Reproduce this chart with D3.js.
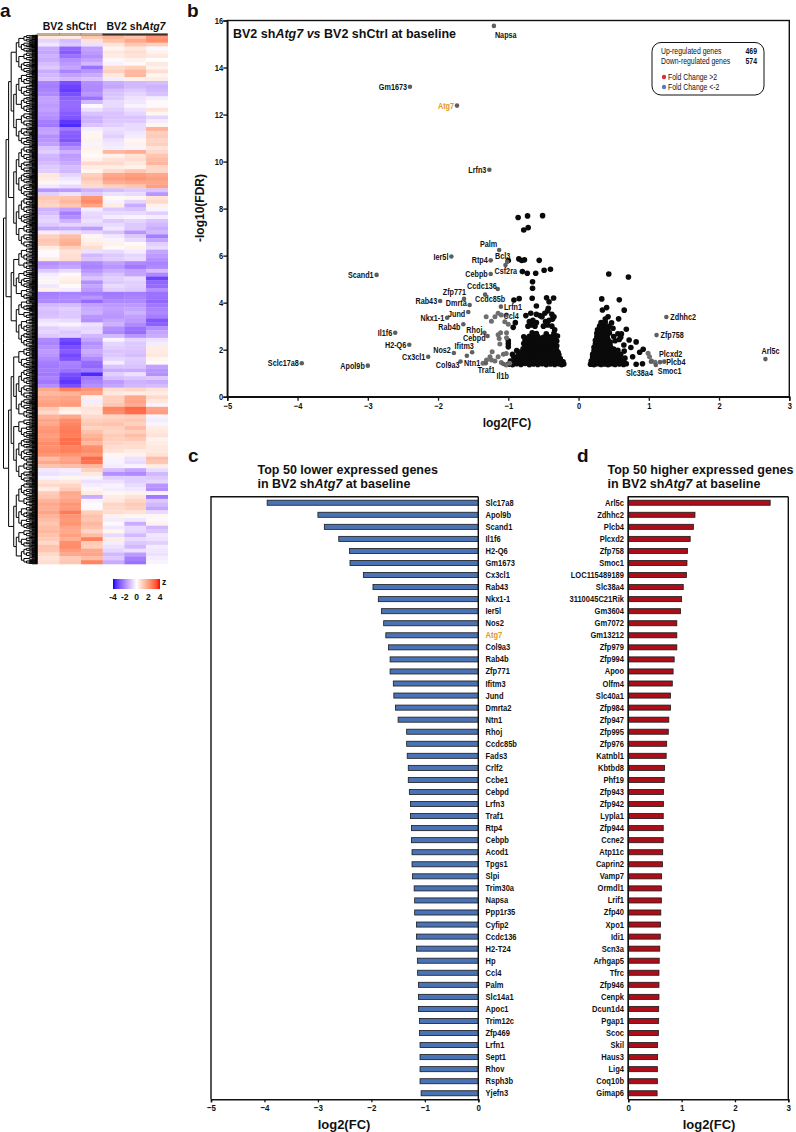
<!DOCTYPE html>
<html>
<head>
<meta charset="utf-8">
<script src="https://cdn.jsdelivr.net/npm/d3@7"></script>
<style>
  html, body { margin: 0; padding: 0; background: #fff; }
  svg { display: block; }
  text { font-family: "Liberation Sans", Arial, sans-serif; fill: #111; }
</style>
</head>
<body>
<svg id="fig" width="796" height="1132"></svg>
<script>
// heatmap z values, one row per line, read top to bottom (3 shCtrl, 3 shAtg7)
const heatRows = [
  [.5,.4,1.2,1.6,1.3,2.2],[-.7,-1.1,.6,1.3,1.8,2.3],[-.4,-.9,-.5,.6,1.2,1],[-1.4,-2.6,-1.6,.2,.5,-.1],
  [-1.5,-2.8,-1.7,.5,.7,.3],[-1.3,-2.4,-1.9,.4,.6,.5],[-1.4,-1.9,-1.6,.1,.3,0],[-1.1,-1.7,-1.2,-.2,.1,.5],
  [-.9,-1.5,-2.4,.8,1,.3],[-1.4,-2.1,-1.8,1,1.5,.7],[-1.2,-1.6,-1.4,.5,1.5,.2],[-1,-1.2,-1,-.3,.3,.4],
  [-2.1,-3,-1.9,-1.4,-1.2,-1.1],[-2.2,-3.2,-2,-1.5,-1.2,-1.3],[-2.1,-3.3,-2,-1.1,-.9,-1.2],[-2,-3,-1.8,-1,-.7,-1],
  [-1.6,-2.7,-2.4,-.9,-.5,-.3],[-1.6,-2.5,-1.2,-.6,-.4,.1],[-1.7,-2.5,-.1,-.6,-.2,-.1],[-1.6,-2.6,-.5,-.8,-.5,.6],
  [-1.8,-2.8,-1,-1,-.7,.2],[-1.9,-2.9,-1.3,-1,-1,-.7],[-2.2,-3.4,-1.3,-.9,-.9,-.3],[-2.3,-3.6,-1,-.8,-.6,.2],
  [-1.6,-2.3,-.3,-.5,-.6,1.6],[-1.5,-2.7,.2,-.6,-.4,1],[-1.9,-2.8,.2,-.8,-.3,1.1],[-1.8,-2.9,.3,-.5,.2,.9],
  [-1.6,-2.4,-.2,-.4,.3,1],[-1,-1.9,.3,-.3,-.2,.6],[-.8,-1.3,.2,1.5,1.7,.8],[-1.2,-1.7,.1,.3,.6,1.2],
  [-1.3,-1.6,.3,.6,.7,1.4],[-1.1,-1.4,.8,.8,.5,1.5],[-.9,-1.1,.4,.4,.3,.9],[-.8,-1.2,.2,.8,1.2,.9],
  [.5,-.7,1,1.8,2,1.8],[.4,-.4,1.2,2,2.2,2],[.2,-.2,.9,1.7,1.8,1.8],[-.4,-.6,.8,1,1.2,2],
  [-1.8,-1.7,-1.3,-1.1,-.9,-1],[-.8,-.5,-.9,-.5,-.6,-1.8],[1.2,1.3,2.2,.1,.2,.6],[1,1.5,2.4,-.2,-.7,.8],
  [.9,1.2,1.9,.4,-1.4,.3],[-1.3,-1.6,-.3,-.9,-1,-.2],[-1.1,-2.2,-.6,-.6,-.6,-.8],[-.8,-1.9,-.7,-.3,-.2,-.3],
  [-.7,-1.3,-.5,-.9,-.7,-1],[-.9,-.7,-.7,-.6,-.9,-1.2],[-1.5,-1.4,-1.7,-.4,-.9,-1.4],[-.3,-.5,-.7,-1,-1.8,-1.2],
  [1,1.4,.2,-.4,-.9,-2.2],[1.2,1.6,.3,-.2,-.6,-1.5],[1.1,1.7,.4,.3,.1,-.8],[.4,1,.7,.1,.3,-.6],
  [.1,.6,-.5,-.6,-.3,-1.5],[-.1,.7,-1.2,-.9,-.7,-1.7],[.4,.7,-1,-.8,-.6,-1.9],[-1.9,-1.7,-2,-1.6,-2,-2.1],
  [-1.7,-1.5,-2.1,-1.8,-2.3,-2],[-.9,-.6,-1.8,-1.4,-1.6,-1.1],[-.3,.1,-1.4,-1,-1.5,-2],[-.2,.3,-1,-.8,-.6,-3.2],
  [.2,.4,-1.9,-.9,-.8,-2.6],[-.4,.1,-1.5,-.6,-.8,-2.5],[.3,-.3,-1.7,-.8,-.9,-1.9],[-2.2,-2.1,-2.2,-2.3,-2.2,-2.4],
  [-2.1,-2,-1.8,-2.2,-2.1,-2.4],[-2,-2,-2.5,-2,-2,-2.6],[-1.2,-1.1,-1.6,-1.7,-1.7,-2.3],[-1,-.8,-1.4,-1.6,-1.5,-2.1],
  [-1.1,-.9,-1.3,-1.7,-1.3,-2],[-1,-.9,-1.8,-1.8,-1.6,-2.2],[-.5,-.6,-1.9,-1.5,-1.7,-2.9],[-.3,-.2,-.5,-1.3,-2,-2.7],
  [-.8,-.6,-.7,-1.9,-2.4,-1.9],[-.7,-.9,-.6,-2,-2.5,-1.5],[-.9,-.8,-1.2,-1.2,-1.8,-1.4],[-2,-3.1,-1.5,-.2,-.7,-.5],
  [-2.1,-3.3,-1.9,-.7,-.9,-.3],[-1.9,-3,-1.7,-.8,-.9,.4],[-1.7,-2.8,-1.4,-1,-1,.4],[-1.8,-3.1,-1.6,-.9,-1.1,.5],
  [-2,-2.9,-2,-.7,-.8,.2],[-2.2,-2.1,-2.5,-.3,-.9,.1],[-2.3,-2.2,-2.6,-1,-1,-1.6],[-2.2,-2.4,-2.2,-1.4,-1.4,-1.8],
  [-2.3,-3,-3.6,-.8,-.5,-1.9],[-2.1,-3.2,-2.3,-1.1,-1,-.9],[-2.3,-3.4,-2.1,-1.7,-1.3,-1.4],[-1.9,-3,-1.9,-1.5,-1.2,-1.1],
  [1.8,2.6,2.2,.7,.9,.6],[1.5,1.6,1.9,.5,.4,.4],[1.8,1.9,.3,1,1.8,.8],[1.9,2,-.3,1,1.9,.5],
  [2,2.1,.4,1.2,1.7,-.2],[1.1,.4,.6,2.5,3,1.9],[.8,.2,.5,2.4,2.9,2],[1.6,1.8,.8,.9,1,-.2],
  [1.9,2.4,1,1.1,1.2,-.3],[1.8,2.5,1.2,1.3,1,-.2],[2.1,2.6,.9,1,1.4,.4],[2.2,2.7,1.3,.9,1,.5],
  [2,2.6,1.6,1.1,1.4,.6],[2.2,2.9,1.8,1,1.1,.3],[2.4,2.9,1.5,.9,.8,.4],[2.3,2.5,2.3,.7,.7,.5],
  [2.4,2.6,2.4,.6,.4,.5],[2.2,2.2,2.1,.2,.3,.6],[1.4,1.9,3,-.2,-.5,1.4],[1.8,2,2.8,-.2,-.6,1.2],
  [1.3,1.4,1.5,-.3,-.2,.4],[-.4,-.3,1,-1.1,-1.5,-.6],[-.5,-.4,.5,-1.9,-2,-1.2],[-.2,.2,-.2,-.8,-.8,-.9],
  [.6,.5,-.5,-.5,-.8,-.7],[.8,.9,-.3,-.2,-.6,-1.8],[.4,1.1,.2,-.3,-.4,-1.9],[1.1,1.8,.4,.2,.3,-.2],
  [1.2,1.7,-1.4,.4,.6,-2.3],[1.6,1.9,-.2,.5,.9,-.9],[1.8,2.2,.1,.9,1.1,-1.2],[1.7,2.1,-.1,.8,1,-1.5],
  [1.9,2.7,1,.7,.6,-.6],[1.6,2.2,1.3,.3,.2,.2],[1.4,2.1,1.2,-.3,-.4,-.1],[1.2,2.2,1.5,.1,-1.4,.3],
  [1.4,1.9,1.3,-.4,-.6,-1.2],[1.5,1.8,.9,.2,-.7,-.9],[1.3,2,1.4,-.6,-1.2,-.4],[1.1,1.7,2.6,.4,-.6,-.5],
  [.8,2.3,1.1,-.3,-.9,-.8],[1.3,2.4,1,-.5,-1.2,-.3],[1.2,2.1,1.8,-.7,-.5,-.4],[.8,1.8,1.9,-1.2,-1.7,-.5],
  [.6,1.1,1.4,-.9,-2.2,-.3],[.7,1.2,2.5,-1.4,-2.4,-.2]
];
const heatColumns = ["c1", "c2", "c3", "a1", "a2", "a3"];
const zTicks = [-4, -2, 0, 2, 4];

// cluster sizes (gene counts) of the row dendrogram, nested as in the picture
const dendroClusters = [
  [[[[44, 52], [[60, 40], [36, 48]]], [[[38, 30], [28, 34]], [[42, 26], [24, 36]]]],
   [[[34, 22], [46, 30]], [[28, 20], [34, 38]]]],
  [[[[24, 30], [[40, 36], [28, 22]]], [[18, 32], [[26, 34], [22, 30]]]],
   [[[36, 24], [30, 28]], [[20, 26], [24, 18]]]]
];

// volcano: genes with a label
const volcanoGenes = ["Napsa","Gm1673","Atg7","Lrfn3","Palm","Bcl3","Ier5l","Rtp4","Csf2ra","Scand1","Cebpb","Ccdc136","Zfp771","Ccdc85b","Rab43","Dmrta","Lrfn1","Jund","Ccl4","Nkx1-1","Rab4b","Rhoj","Cebpd","Il1f6","H2-Q6","Ifitm3","Nos2","Ntn1","Cx3cl1","Col9a3","Traf1","Il1b","Sclc17a8","Apol9b","Zdhhc2","Zfp758","Plcxd2","Plcb4","Slc38a4","Smoc1","Arl5c"];
const volcanoFc = [-1.205,-2.4,-1.73,-1.27,-1.13,-1.015,-1.81,-1.25,-1.04,-2.875,-1.25,-1.15,-1.63,-1.33,-1.97,-1.55,-1.105,-1.57,-1.025,-1.87,-1.64,-1.34,-1.295,-2.61,-2.41,-1.59,-1.775,-1.515,-2.14,-1.68,-1.32,-1.07,-3.94,-3,1.25,1.11,1.16,1.22,1.03,1.1,2.66];
const volcanoFdr = [15.77,13.18,12.38,9.65,6.24,5.74,5.96,5.8,5.6,5.18,5.22,4.58,4.16,4.34,4.07,3.9,3.83,3.6,3.48,3.36,3.08,2.72,2.58,2.72,2.21,1.74,1.86,1.89,1.7,1.5,1.42,1.39,1.42,1.32,3.39,2.62,1.47,1.49,1.49,1.35,1.6];

// volcano: grey genes past the fold change cut, no label
const greyPoints = [[-1.315,3.4],[-1.24,3.21],[-1.19,3.4],[-1.145,3.55],[-1.1,3.48],[-1.05,3.19],[-1,3.08],[-1.145,2.64],[-1.11,2.72],[-1.025,2.72],[-1.025,2.51],[-1.12,2.24],[-1.13,2.48],[-1.23,1.91],[-1.26,1.7],[-1.31,1.56],[-1.36,1.42],[-1.24,1.56],[-1.19,1.52],[-1.145,1.7],[-1.07,1.81],[-1.03,1.84],[-1.1,1.45],[-1.03,1.35],[-.98,1.42],[.99,1.85],[1.04,1.52],[1.09,1.47],[1.01,1.7]];

// volcano: black genes, negative side
const blackDown = [[-.86,7.62],[-.726,7.69],[-.512,7.7],[-.717,7.19],[-.78,7.09],[-.85,5.86],[-.81,5.79],[-.77,5.82],[-.56,5.8],[-1,5.79],[-.8,5.32],[-.73,5.25],[-.61,5.25],[-.49,5.38],[-.4,5.42],[-.655,4.89],[-.655,4.61],[-.66,4.19],[-.92,4.11],[-.845,4.17],[-.455,4.21],[-.355,4.2],[-.42,4.04],[-.6,3.86],[-.43,3.76],
  [-1,1.38],[-.94,1.36],[-.88,1.4],[-.82,1.37],[-.76,1.41],[-.7,1.36],[-.64,1.39],[-.58,1.37],[-.52,1.4],[-.46,1.36],[-.4,1.39],[-.34,1.37],[-.28,1.4],[-.24,1.36],[-.21,1.39],
  [-.97,1.52],[-.9,1.5],[-.83,1.54],[-.75,1.51],[-.68,1.53],[-.61,1.5],[-.55,1.55],[-.48,1.51],[-.42,1.53],[-.36,1.5],[-.3,1.54],[-.25,1.51],[-.22,1.48],
  [-.92,1.68],[-.86,1.65],[-.78,1.67],[-.72,1.64],[-.66,1.69],[-.6,1.66],[-.53,1.68],[-.47,1.65],[-.41,1.67],[-.35,1.64],[-.29,1.68],[-.26,1.62],
  [-.94,1.8],[-.78,1.82],[-.71,1.79],[-.65,1.83],[-.58,1.8],[-.52,1.82],[-.45,1.78],[-.39,1.83],[-.33,1.8],[-.28,1.78],
  [-.88,1.96],[-.74,1.95],[-.68,1.98],[-.61,1.94],[-.55,1.97],[-.48,1.95],[-.42,1.98],[-.36,1.94],[-.31,1.96],
  [-1,2.12],[-.76,2.1],[-.7,2.13],[-.63,2.09],[-.57,2.12],[-.5,2.1],[-.44,2.13],[-.38,2.09],[-.32,2.11],
  [-1,2.25],[-.78,2.26],[-.72,2.23],[-.65,2.27],[-.58,2.24],[-.52,2.26],[-.46,2.23],[-.4,2.27],[-.34,2.25],
  [-1,2.38],[-.76,2.4],[-.7,2.42],[-.62,2.39],[-.56,2.41],[-.49,2.38],[-.43,2.42],[-.37,2.4],[-.31,2.37],
  [-.78,2.55],[-.7,2.57],[-.64,2.54],[-.58,2.56],[-.5,2.53],[-.44,2.57],[-.38,2.55],[-.3,2.58],
  [-.66,2.72],[-.6,2.69],[-.46,2.68],[-.35,2.7],
  [-.93,2.95],[-.9,3.15],[-.72,3],[-.67,3.05],[-.62,3],[-.7,3.2],[-.65,3.25],[-.6,3.15],[-.5,3],[-.44,3.05],[-.38,3],[-.47,3.2],[-.42,3.25],[-.37,3.3],[-.34,2.85],[-.75,3.45],[-.68,3.55],[-.6,3.5],[-.55,3.45],[-.52,3.4],[-.35,3.4],[-.38,3.5],[-.48,3.55],[-.44,3.65],
  [-.92,1.44],[-.85,1.46],[-.79,1.44],[-.72,1.45],[-.66,1.46],[-.59,1.44],[-.53,1.46],[-.47,1.44],[-.41,1.46],[-.35,1.44],[-.29,1.46],[-.23,1.44],
  [-.89,1.59],[-.8,1.6],[-.74,1.58],[-.69,1.6],[-.63,1.59],[-.57,1.6],[-.5,1.58],[-.44,1.6],[-.38,1.58],[-.32,1.6],[-.27,1.58],
  [-.86,1.76],[-.81,1.74],[-.75,1.76],[-.68,1.75],[-.62,1.74],[-.55,1.76],[-.49,1.74],[-.42,1.76],[-.36,1.74],[-.3,1.76],
  [-.83,1.9],[-.77,1.88],[-.71,1.9],[-.64,1.88],[-.58,1.9],[-.51,1.88],[-.45,1.9],[-.39,1.88],[-.33,1.9],[-.29,1.88],
  [-.79,2.04],[-.73,2.03],[-.66,2.05],[-.6,2.03],[-.53,2.05],[-.47,2.03],[-.41,2.05],[-.35,2.03],
  [-.75,2.18],[-.68,2.17],[-.61,2.19],[-.55,2.17],[-.48,2.19],[-.42,2.17],[-.36,2.19],[-.31,2.17],
  [-.74,2.32],[-.67,2.33],[-.6,2.31],[-.54,2.33],[-.47,2.31],[-.41,2.33],[-.35,2.31],
  [-.73,2.48],[-.66,2.47],[-.6,2.49],[-.53,2.47],[-.47,2.49],[-.41,2.47],[-.34,2.49]];

// volcano: black genes, positive side
const blackUp = [[.43,5.22],[.71,5.09],[.33,4.16],[.58,4.12],[.4,3.79],[.34,3.69],[.65,3.68],[.42,3.4],[.57,3.31],[.35,3.12],[.49,2.91],[.68,2.87],[.61,2.67],[.72,2.41],[.82,2.33],[.645,2.2],[.745,2.09],[.92,2.02],[.87,1.89],[.77,1.7],[.82,1.38],[.91,1.4],
  [.17,1.38],[.22,1.36],[.27,1.4],[.32,1.37],[.37,1.39],[.42,1.36],[.47,1.4],[.52,1.37],[.58,1.39],[.64,1.37],[.68,1.4],
  [.18,1.52],[.24,1.5],[.3,1.53],[.36,1.51],[.42,1.54],[.48,1.5],[.55,1.52],[.62,1.5],
  [.2,1.66],[.26,1.64],[.32,1.67],[.38,1.65],[.44,1.68],[.5,1.65],[.58,1.67],[.66,1.64],
  [.2,1.8],[.26,1.82],[.32,1.79],[.38,1.81],[.44,1.78],[.52,1.82],[.6,1.8],
  [.22,1.95],[.28,1.97],[.34,1.94],[.4,1.96],[.46,1.93],[.56,1.97],[.65,1.94],
  [.22,2.1],[.28,2.12],[.34,2.09],[.4,2.11],[.46,2.08],
  [.24,2.25],[.3,2.27],[.36,2.24],[.42,2.26],
  [.24,2.4],[.3,2.42],[.36,2.39],[.42,2.41],[.52,2.38],[.58,2.43],
  [.26,2.55],[.32,2.57],[.38,2.54],[.5,2.56],[.6,2.53],
  [.26,2.7],[.32,2.72],[.38,2.69],[.44,2.71],[.56,2.68],
  [.27,2.85],[.33,2.87],[.39,2.84],[.3,3],[.36,3.02],[.43,2.99],[.32,3.15],[.38,3.17],[.47,3.14],[.38,3.3],
  [.2,1.45],[.27,1.46],[.33,1.44],[.39,1.46],[.45,1.45],[.51,1.44],[.58,1.46],[.65,1.44],
  [.23,1.6],[.29,1.58],[.35,1.6],[.41,1.58],[.47,1.6],[.54,1.58],[.61,1.6],
  [.23,1.74],[.29,1.72],[.35,1.74],[.41,1.72],[.47,1.74],[.55,1.73],
  [.25,1.88],[.31,1.87],[.37,1.89],[.43,1.87],[.49,1.89],
  [.25,2.03],[.31,2.02],[.37,2.04],[.43,2.02],[.5,2.03],
  [.27,2.18],[.33,2.17],[.39,2.19],[.45,2.17],
  [.27,2.33],[.33,2.32],[.39,2.34],[.45,2.32],
  [.29,2.48],[.35,2.47],[.41,2.49],
  [.29,2.63],[.35,2.62],[.41,2.64],
  [.3,2.78],[.36,2.77],[.42,2.79],[.33,2.93],[.39,2.92]];

// panel c
const lowerGenes = ["Slc17a8","Apol9b","Scand1","Il1f6","H2-Q6","Gm1673","Cx3cl1","Rab43","Nkx1-1","Ier5l","Nos2","Atg7","Col9a3","Rab4b","Zfp771","Ifitm3","Jund","Dmrta2","Ntn1","Rhoj","Ccdc85b","Fads3","Crlf2","Ccbe1","Cebpd","Lrfn3","Traf1","Rtp4","Cebpb","Acod1","Tpgs1","Slpi","Trim30a","Napsa","Ppp1r35","Cyfip2","Ccdc136","H2-T24","Hp","Ccl4","Palm","Slc14a1","Apoc1","Trim12c","Zfp469","Lrfn1","Sept1","Rhov","Rsph3b","Yjefn3"];
const lowerFc = [-3.95,-3,-2.88,-2.61,-2.41,-2.4,-2.15,-1.97,-1.87,-1.81,-1.77,-1.73,-1.68,-1.65,-1.65,-1.59,-1.58,-1.55,-1.5,-1.34,-1.34,-1.33,-1.31,-1.31,-1.29,-1.27,-1.27,-1.25,-1.25,-1.24,-1.24,-1.23,-1.2,-1.19,-1.19,-1.155,-1.155,-1.155,-1.14,-1.135,-1.12,-1.12,-1.12,-1.1,-1.1,-1.09,-1.09,-1.09,-1.09,-1.07];

// panel d
const higherGenes = ["Arl5c","Zdhhc2","Plcb4","Plcxd2","Zfp758","Smoc1","LOC115489189","Slc38a4","3110045C21Rik","Gm3604","Gm7072","Gm13212","Zfp979","Zfp994","Apoo","Olfm4","Slc40a1","Zfp984","Zfp947","Zfp995","Zfp976","Katnbl1","Kbtbd8","Phf19","Zfp943","Zfp942","Lypla1","Zfp944","Ccne2","Atp11c","Caprin2","Vamp7","Ormdl1","Lrif1","Zfp40","Xpo1","Idi1","Scn3a","Arhgap5","Tfrc","Zfp946","Cenpk","Dcun1d4","Pgap1","Scoc","Skil","Haus3","Lig4","Coq10b","Gimap6"];
const higherFc = [2.66,1.25,1.22,1.16,1.11,1.1,1.09,1.03,1,.98,.91,.91,.91,.86,.84,.825,.79,.79,.76,.75,.72,.71,.68,.675,.66,.66,.655,.655,.655,.645,.64,.625,.62,.62,.61,.605,.6,.59,.58,.575,.575,.575,.57,.57,.565,.55,.55,.545,.545,.54];

const svg = d3.select("#fig");
const BOLD = 700;
const SQUEEZE = 0.84; // labels in the figure are set condensed

function addText(parent, x, y, str, size, weight, anchor) {
    return parent.append("text")
        .attr("x", x)
        .attr("y", y)
        .attr("font-size", size)
        .attr("font-weight", weight || 400)
        .attr("text-anchor", anchor || "start")
        .text(str);
}

function narrowText(parent, x, y, str, size, weight, anchor) {
    return addText(parent, 0, 0, str, size, weight, anchor)
        .attr("transform", "translate(" + x + "," + y + ") scale(" + SQUEEZE + ",1)");
}

// axis with thick domain and ticks, bold tick labels
function styleAxis(g, size) {
    g.selectAll("path.domain").attr("stroke", "#111").attr("stroke-width", 1.5);
    g.selectAll(".tick line").attr("stroke", "#111").attr("stroke-width", 1.3);
    g.selectAll(".tick text")
        .attr("font-size", size)
        .attr("font-weight", BOLD)
        .attr("font-family", "'Liberation Sans', Arial, sans-serif")
        .attr("transform", "scale(" + SQUEEZE + ",1)")
        .attr("fill", "#111");
}

// panel letters
[["a", 0, 17], ["b", 187, 17], ["c", 188, 462], ["d", 577, 462]].forEach(p => {
    addText(svg, p[1], p[2], p[0], 19, BOLD);
});

// ---- a: heatmap
const heatG = svg.append("g");
const heatX = d3.scaleBand().domain(heatColumns).range([37.7, 167.7]);
const heatY = d3.scaleBand().domain(d3.range(heatRows.length)).range([35, 564]);
const zColor = d3.scaleLinear().domain([-4, 0, 4]).range(["#0000ff", "#ffffff", "#ff0000"]).interpolate(d3.interpolateLab);

heatRows.forEach((row, i) => {
    heatG.selectAll(null)
        .data(row)
        .join("rect")
        .attr("x", (d, j) => heatX(heatColumns[j]))
        .attr("y", heatY(i))
        .attr("width", heatX.bandwidth() + 0.3)
        .attr("height", heatY.bandwidth() + 0.3)
        .attr("fill", d => zColor(d));
});

// sample strip above the columns
heatG.selectAll(null)
    .data(heatColumns)
    .join("rect")
    .attr("x", d => heatX(d))
    .attr("y", 33.5)
    .attr("width", heatX.bandwidth())
    .attr("height", 2)
    .attr("fill", (d, i) => i < 3 ? "#c8ad94" : "#3b2f28")
    .attr("stroke", "#555")
    .attr("stroke-width", 0.3);

addText(heatG, 69.5, 30, "BV2 shCtrl", 10.5, BOLD, "middle");
const atgHead = addText(heatG, 136, 30, "BV2 sh", 10.5, BOLD, "middle");
atgHead.append("tspan").attr("font-style", "italic").text("Atg7");

// dendrogram: nested counts get split down to single genes
const splitCycle = [.5, .38, .62, .45, .55, .42];
function expand(node, depth) {
    if (Array.isArray(node)) {
        return {children: node.map(n => expand(n, depth + 1))};
    }
    if (node <= 1) {
        return {};
    }
    const left = Math.max(1, Math.round(node * splitCycle[depth % splitCycle.length]));
    return {children: [expand(left, depth + 1), expand(node - left, depth + 1)]};
}
const dendroRoot = d3.hierarchy(expand(dendroClusters, 0));
d3.cluster().size([529, 34]).separation(() => 1)(dendroRoot);

// last four levels fill the black block, the rest share the room left of it
const dendroX = d3.scaleLinear()
    .domain([0, 4, dendroRoot.height])
    .range([34, 23, 0]);

heatG.append("g")
    .attr("transform", "translate(3.5,35)")
    .selectAll("path")
    .data(dendroRoot.links())
    .join("path")
    .attr("d", d => "M" + dendroX(d.source.height) + "," + d.source.x + "V" + d.target.x + "H" + dendroX(d.target.height))
    .attr("fill", "none")
    .attr("stroke", "#000")
    .attr("stroke-width", 1);

// z colour key
const keyX = d3.scaleLinear().domain([-4, 4]).range([113, 160]);
const grad = svg.append("defs").append("linearGradient").attr("id", "zKey");
d3.range(-4, 4.5, 0.5).forEach(v => {
    grad.append("stop").attr("offset", (v + 4) / 8).attr("stop-color", zColor(v));
});
svg.append("rect")
    .attr("x", keyX(-4))
    .attr("y", 579)
    .attr("width", keyX(4) - keyX(-4))
    .attr("height", 10)
    .attr("fill", "url(#zKey)");
svg.selectAll(null)
    .data(zTicks)
    .join("text")
    .attr("x", d => keyX(d))
    .attr("y", 599.5)
    .attr("font-size", 8.5)
    .attr("font-weight", BOLD)
    .attr("text-anchor", "middle")
    .text(d => d);
addText(svg, 162, 585, "z", 8.5, BOLD);

// ---- b: volcano
const volX = d3.scaleLinear().domain([-5, 3]).range([227.3, 789.3]);
const volY = d3.scaleLinear().domain([0, 16]).range([396.7, 20.5]);
const volG = svg.append("g");

volG.append("rect")
    .attr("x", volX(-5))
    .attr("y", volY(16))
    .attr("width", volX(3) - volX(-5))
    .attr("height", volY(0) - volY(16))
    .attr("fill", "none")
    .attr("stroke", "#111")
    .attr("stroke-width", 1.4);

const volAxisX = volG.append("g")
    .attr("transform", "translate(0," + volY(0) + ")")
    .call(d3.axisBottom(volX).tickValues(d3.range(-5, 4)).tickSize(4).tickPadding(2).tickFormat(d3.format("d")));
styleAxis(volAxisX, 9);
const volAxisY = volG.append("g")
    .attr("transform", "translate(" + volX(-5) + ",0)")
    .call(d3.axisLeft(volY).tickValues(d3.range(0, 17, 2)).tickSize(4).tickPadding(1).tickFormat(d3.format("d")));
styleAxis(volAxisY, 9);

addText(svg, 507, 427, "log2(FC)", 12, BOLD, "middle");
svg.append("text")
    .attr("transform", "translate(204,208) rotate(-90)")
    .attr("font-size", 12)
    .attr("font-weight", BOLD)
    .attr("text-anchor", "middle")
    .text("-log10(FDR)");

const volTitle = addText(volG, 233, 38, "BV2 sh", 12.5, BOLD);
volTitle.append("tspan").attr("font-style", "italic").text("Atg7 vs");
volTitle.append("tspan").text(" BV2 shCtrl at baseline");

// black cloud, then grey on top
volG.append("g")
    .selectAll("circle")
    .data(blackDown.concat(blackUp))
    .join("circle")
    .attr("cx", d => volX(d[0]))
    .attr("cy", d => volY(d[1]))
    .attr("r", 2.8)
    .attr("fill", "#0a0a0a");
volG.append("g")
    .selectAll("circle")
    .data(greyPoints)
    .join("circle")
    .attr("cx", d => volX(d[0]))
    .attr("cy", d => volY(d[1]))
    .attr("r", 2.5)
    .attr("fill", "#6e6e6e");
volG.append("g")
    .selectAll("circle")
    .data(volcanoGenes)
    .join("circle")
    .attr("cx", (d, i) => volX(volcanoFc[i]))
    .attr("cy", (d, i) => volY(volcanoFdr[i]))
    .attr("r", 2.3)
    .attr("fill", "#5f5f5f");

// label placement: dx, dy, anchor; anything not listed sits left of its dot
const labelPlace = {
    Napsa: [1, 12, "start"], Palm: [-2, -3, "end"], Bcl3: [3, -3, "end"], Csf2ra: [-11, 9, "start"],
    Ccdc136: [-1, 0, "end"], Zfp771: [2, -4, "end"], Ccdc85b: [-10, 7, "start"], Lrfn1: [3, 3, "start"],
    Ccl4: [-3, 4, "start"], "Rab4b": [-3, 6, "end"], Rhoj: [-2, 0, "end"], Cebpd: [-2, 5, "end"],
    Dmrta: [-3, 1, "end"], Jund: [-3, 5, "end"],
    Nos2: [-3, 0, "end"], Ifitm3: [7, -7, "end"], Col9a3: [-1, 7, "end"], Ntn1: [-8, 14, "start"],
    Traf1: [-8, 10, "start"], Il1b: [-7, 15, "start"], Zdhhc2: [4, 3, "start"], Zfp758: [4, 3, "start"],
    Arl5c: [-4, -5, "start"], Plcxd2: [-1, -5, "start"], Plcb4: [2, 3, "start"], Smoc1: [2, 9, "start"],
    Slc38a4: [2, 14, "end"]
};
const labelG = volG.append("g");
volcanoGenes.forEach((name, i) => {
    const place = labelPlace[name] || [-3, 3, "end"];
    narrowText(labelG, volX(volcanoFc[i]) + place[0], volY(volcanoFdr[i]) + place[1], name, 8.6, BOLD, place[2])
        .style("fill", name === "Atg7" ? "#e0962a" : "#111");
});

// count box
const boxG = volG.append("g");
boxG.append("rect")
    .attr("x", 652)
    .attr("y", 42.5)
    .attr("width", 112)
    .attr("height", 52.5)
    .attr("rx", 9)
    .attr("fill", "#fff")
    .attr("stroke", "#111")
    .attr("stroke-width", 1);
narrowText(boxG, 661, 54, "Up-regulated genes", 8.2);
narrowText(boxG, 757, 54, "469", 8.2, BOLD, "end");
narrowText(boxG, 661, 64, "Down-regulated genes", 8.2);
narrowText(boxG, 757, 64, "574", 8.2, BOLD, "end");
narrowText(boxG, 668, 80, "Fold Change >2", 8.2);
narrowText(boxG, 668, 90, "Fold Change <-2", 8.2);
boxG.append("circle").attr("cx", 664).attr("cy", 77).attr("r", 2.2).attr("fill", "#d8303f");
boxG.append("circle").attr("cx", 664).attr("cy", 87).attr("r", 2.2).attr("fill", "#4f7fc0");

// ---- c, d: bars
function barPanel(genes, values, xDomain, xRange, fill, labelX, labelAnchor, titleX, title1, axisLabelX) {
    const g = svg.append("g");
    const x = d3.scaleLinear().domain(xDomain).range(xRange);
    const y = d3.scaleBand().domain(genes).range([496.7, 1099.3]).paddingInner(0.58).paddingOuter(0.29);

    // frame, right side only for d
    const zeroAtRight = xDomain[1] === 0;
    g.append("path")
        .attr("d", "M" + xRange[1] + ",496.7H" + xRange[0] + "V1099.3" + (zeroAtRight ? "" : "M" + xRange[1] + ",496.7V1099.3"))
        .attr("fill", "none")
        .attr("stroke", "#111")
        .attr("stroke-width", 1.4);

    g.selectAll("rect")
        .data(genes)
        .join("rect")
        .attr("x", (d, i) => Math.min(x(0), x(values[i])))
        .attr("y", d => y(d))
        .attr("width", (d, i) => Math.abs(x(values[i]) - x(0)))
        .attr("height", y.bandwidth())
        .attr("fill", fill)
        .attr("stroke", "#1a1a1a")
        .attr("stroke-width", 0.8);

    const axisB = g.append("g")
        .attr("transform", "translate(0,1099.3)")
        .call(d3.axisBottom(x).ticks(xDomain[1] - xDomain[0]).tickSize(3).tickPadding(2).tickFormat(d3.format("d")));
    styleAxis(axisB, 9.5);

    // zero line
    g.append("line")
        .attr("x1", x(0)).attr("x2", x(0))
        .attr("y1", 496.7).attr("y2", 1099.3)
        .attr("stroke", "#111")
        .attr("stroke-width", 1.4);

    genes.forEach(name => {
        narrowText(g, labelX, y(name) + y.bandwidth() / 2 + 3, name, 9, BOLD, labelAnchor)
            .style("fill", name === "Atg7" ? "#e0962a" : "#111");
    });

    addText(g, titleX, 474, title1, 12.5, BOLD);
    const t2 = addText(g, titleX, 488, "in BV2 sh", 12.5, BOLD);
    t2.append("tspan").attr("font-style", "italic").text("Atg7");
    t2.append("tspan").text(" at baseline");
    addText(g, axisLabelX, 1129, "log2(FC)", 13, BOLD, "middle");
}

barPanel(lowerGenes, lowerFc, [-5, 0], [211, 478.3], "#4a73b6", 485.5, "start", 257.5, "Top 50 lower expressed genes", 344);
barPanel(higherGenes, higherFc, [0, 3], [628.3, 788.3], "#ac0d18", 624, "end", 607.5, "Top 50 higher expressed genes", 709);
</script>
</body>
</html>
